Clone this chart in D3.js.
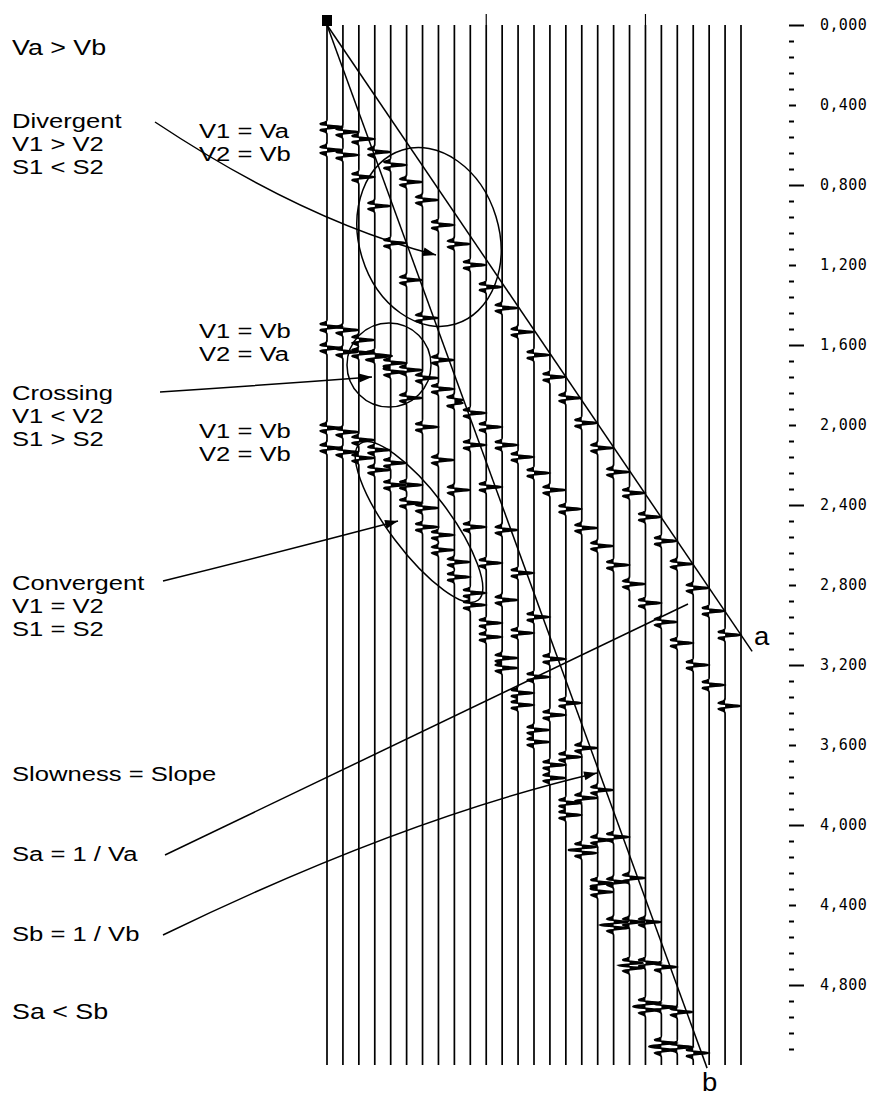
<!DOCTYPE html>
<html><head><meta charset="utf-8">
<script src="https://cdn.jsdelivr.net/npm/d3@7"></script>
<style>body{margin:0;background:#fff}svg{display:block}</style>
</head><body>
<svg id="c" width="871" height="1098"></svg>
<script>
// ---- data (times in seconds, one value per trace starting at trace 0) ----
const traceCount = 27;
const d1Times = [0.510,0.535,0.570,0.635,0.700,0.785,0.875,1.000,1.095,1.200,1.310,1.415,1.535,1.650,1.760,1.865,1.990,2.115,2.235,2.340,2.460,2.580,2.695,2.815,2.930,3.050];
const d2Times = [0.625,0.650,0.760,0.905,1.090,1.275,1.465,1.675,1.890,2.100,2.310,2.525,2.740,2.960,3.170,3.390,3.615,3.825,4.060,4.265,4.485,4.710,4.935,5.140];
const c1Times = [1.510,1.525,1.575,1.650,1.735,1.865,2.010,2.175,2.325,2.510,2.690,2.875,3.040,3.260,3.450,3.660,3.865,4.075,4.285,4.485,4.690,4.910,5.110];
const c2Times = [1.615,1.635,1.640,1.660,1.690,1.725,1.765,1.820,1.875,1.940,2.010,2.100,2.160,2.240,2.325,2.420,2.515,2.605,2.700,2.795,2.890,2.985,3.090,3.200,3.300,3.405];
const v1Times = [2.015,2.035,2.075,2.125,2.190,2.300,2.415,2.550,2.685,2.840,2.990,3.165,3.340,3.525,3.700,3.890,4.110,4.290,4.485,4.690,4.890,5.090];
const v2Times = [2.115,2.135,2.165,2.225,2.300,2.390,2.510,2.625,2.760,2.900,3.060,3.215,3.400,3.585,3.765,3.950,4.140,4.335,4.515,4.715,4.925,5.125];
const slownessA = 0.1173;   // s per trace (line a)
const slownessB = 0.2185;   // s per trace (line b)
const lineAEnd = 26.7, lineBEnd = 23.87; // trace index where the lines stop
const tickValues = [0,0.4,0.8,1.2,1.6,2.0,2.4,2.8,3.2,3.6,4.0,4.4,4.8];
const tickLabels = ["0,000","0,400","0,800","1,200","1,600","2,000","2,400","2,800","3,200","3,600","4,000","4,400","4,800"];

const svg = d3.select("#c");
const xS = d3.scaleLinear().domain([0, traceCount-1]).range([327, 741]);
const yS = d3.scaleLinear().domain([0, 5.2]).range([25, 1065]);

// ---- traces ----
const allEvents = [d1Times,d2Times,c1Times,c2Times,v1Times,v2Times];
const amp = 15, sig = 0.0125;
const ricker = u => (1 - 2*u*u) * Math.exp(-u*u);
const tSamples = d3.range(0, 5.2001, 0.002);
const gT = svg.append("g");
for (let i = 0; i < traceCount; i++) {
  const ev = allEvents.map(a => a[i]).filter(v => v !== undefined);
  const base = xS(i);
  const pts = tSamples.map(t => {
    let dx = 0;
    ev.forEach(te => { const u = (t - te)/sig; if (Math.abs(u) < 6) dx += amp*ricker(u); });
    return {t, x: base + dx};
  });
  gT.append("path").datum(pts)
    .attr("d", d3.area().x0(base).x1(d => d.x).y(d => yS(d.t)))
    .attr("fill", "#000");
  gT.append("path").datum(pts)
    .attr("d", d3.line().x(d => d.x).y(d => yS(d.t)))
    .attr("fill", "none").attr("stroke", "#000").attr("stroke-width", 1.7);
  if (i % 10 === 0 && i > 0) {
    gT.append("line").attr("x1", base).attr("x2", base).attr("y1", yS(-0.055)).attr("y2", yS(0))
      .attr("stroke", "#000").attr("stroke-width", 1.2);
  }
}
// source marker
svg.append("rect").attr("x", xS(0)-5).attr("y", yS(0)-10).attr("width", 10).attr("height", 11).attr("fill", "#000");

// ---- asymptote lines a and b ----
const lineGen = d3.line().x(d => xS(d[0])).y(d => yS(d[1]));
svg.append("path").attr("d", lineGen([[0,0],[lineAEnd, lineAEnd*slownessA]]))
  .attr("stroke", "#000").attr("stroke-width", 1.5).attr("fill", "none");
svg.append("path").attr("d", lineGen([[0,0],[lineBEnd, lineBEnd*slownessB]]))
  .attr("stroke", "#000").attr("stroke-width", 1.5).attr("fill", "none");

// ---- axis ----
const minorTicks = d3.range(0, 5.1201, 0.08).map(v => +v.toFixed(2));
const ax = svg.append("g").attr("transform", "translate(789,0)")
  .call(d3.axisRight(yS).tickValues(minorTicks).tickSize(0).tickPadding(31)
    .tickFormat(v => { const k = tickValues.findIndex(tv => Math.abs(tv - v) < 1e-6); return k >= 0 ? tickLabels[k] : ""; }));
ax.select(".domain").remove();
ax.selectAll(".tick line").attr("x2", v => {
  const r = Math.round(v*100);
  return r % 80 === 0 ? 15 : (r % 40 === 0 ? 7 : 5);
}).attr("stroke", "#000").attr("stroke-width", 2);
ax.selectAll(".tick text").attr("font-family", "DejaVu Sans Mono, monospace").attr("font-size", 15)
  .attr("letter-spacing", 0.4).attr("fill", "#000");

// ---- annotations ----
const ann = svg.append("g").attr("stroke", "#000").attr("stroke-width", 1.5).attr("fill", "none");
ann.append("ellipse").attr("cx", 429).attr("cy", 237).attr("rx", 70).attr("ry", 91).attr("transform", "rotate(-17,429,237)");
ann.append("circle").attr("cx", 389).attr("cy", 365).attr("r", 42);
ann.append("ellipse").attr("cx", 419).attr("cy", 522).attr("rx", 30).attr("ry", 98).attr("transform", "rotate(-37,419,522)");

function head(cx, cy, x2, y2) {
  const a = Math.atan2(y2 - cy, x2 - cx), L = 13, W = 4.5;
  const bx = x2 - L*Math.cos(a), by = y2 - L*Math.sin(a);
  svg.append("path").attr("d", `M${x2},${y2}L${bx - W*Math.sin(a)},${by + W*Math.cos(a)}L${bx + W*Math.sin(a)},${by - W*Math.cos(a)}Z`).attr("fill", "#000");
}
function pointer(p0, c, p2, withHead) {
  const p = d3.path();
  p.moveTo(p0[0], p0[1]);
  p.quadraticCurveTo(c[0], c[1], p2[0], p2[1]);
  ann.append("path").attr("d", p.toString());
  if (withHead) head(c[0], c[1], p2[0], p2[1]);
}
pointer([155,122], [304,221], [436,255], true);
pointer([160,392], [266,385], [372,377], true);
pointer([163,581], [280,552], [398,521], true);
pointer([165,855], [426,730], [688,604], false);
pointer([163,935], [404,818], [597,773], true);

const texts = [
  ["Va > Vb", 12, 55, 22],
  ["Divergent", 12, 128, 21], ["V1 > V2", 12, 151, 21], ["S1 < S2", 12, 174, 21],
  ["V1 = Va", 199, 138, 21], ["V2 = Vb", 199, 161, 21],
  ["V1 = Vb", 199, 338, 21], ["V2 = Va", 199, 361, 21],
  ["Crossing", 12, 400, 21], ["V1 < V2", 12, 423, 21], ["S1 > S2", 12, 446, 21],
  ["V1 = Vb", 199, 438, 21], ["V2 = Vb", 199, 461, 21],
  ["Convergent", 12, 590, 21], ["V1 = V2", 12, 613, 21], ["S1 = S2", 12, 636, 21],
  ["Slowness = Slope", 12, 781, 21],
  ["Sa = 1 / Va", 12, 861, 21], ["Sb = 1 / Vb", 12, 941, 21],
  ["Sa < Sb", 12, 1019, 22],
  ["a", 754, 645, 25], ["b", 702, 1091, 25]
];
svg.append("g").selectAll("text").data(texts).join("text")
  .attr("transform", d => `translate(${d[1]},${d[2]}) scale(${d[0].length > 1 ? 1.22 : 1.1},1)`)
  .attr("font-size", d => d[3])
  .attr("font-family", "Liberation Sans, Arial, sans-serif").attr("fill", "#000")
  .text(d => d[0]);
</script>
</body></html>
